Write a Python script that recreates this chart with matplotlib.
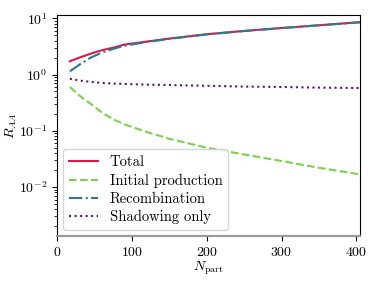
import numpy as np
import matplotlib
matplotlib.use("Agg")
import matplotlib.pyplot as plt

plt.rcParams['font.family'] = 'serif'
plt.rcParams['font.serif'] = ['cmr10']
plt.rcParams['mathtext.fontset'] = 'cm'
plt.rcParams['axes.formatter.use_mathtext'] = True
plt.rcParams['font.size'] = 10

# values
npart = [17, 30, 45, 60, 75, 90, 120, 150, 200, 250, 300, 350, 405]
total = [1.72, 2.0, 2.35, 2.7, 3.0, 3.4, 3.85, 4.35, 5.2, 5.95, 6.7, 7.5, 8.5]
initial = [0.6, 0.42, 0.3, 0.21, 0.16, 0.13, 0.095, 0.072, 0.05, 0.038, 0.029, 0.022, 0.0168]
recomb = [1.14, 1.5, 2.0, 2.45, 2.85, 3.25, 3.78, 4.3, 5.15, 5.92, 6.68, 7.48, 8.48]
shadow = [0.84, 0.78, 0.74, 0.71, 0.69, 0.68, 0.66, 0.65, 0.63, 0.61, 0.6, 0.585, 0.575]

fig = plt.figure(figsize=(3.81, 2.85), dpi=100)
ax = fig.add_axes([0.15, 0.172, 0.795, 0.776])

ax.plot(npart, total, color='#d81b45', lw=1.5, ls='-', label='Total')
ax.plot(npart, initial, color='#7ad24e', lw=1.5, ls='--', label='Initial production')
ax.plot(npart, recomb, color='#2b7a93', lw=1.5, ls='-.', label='Recombination')
ax.plot(npart, shadow, color='#5a1a6a', lw=1.5, ls=':', label='Shadowing only')

ax.set_yscale('log')
ax.set_ylim(1.35e-3, 11.5)
ax.set_xlim(0, 405)
ax.set_xticks([0, 100, 200, 300, 400])
ax.set_xlabel(r'$N_{\rm part}$', labelpad=1)
ax.set_ylabel(r'$R_{AA}$', labelpad=0)
ax.spines['bottom'].set_color('#999999')
ax.spines['bottom'].set_linewidth(1.6)

ax.legend(loc='lower left', fontsize=10.5, handlelength=2.0, borderaxespad=0.4,
          labelspacing=0.3, framealpha=0.8)

fig.savefig('out.png', dpi=100)
